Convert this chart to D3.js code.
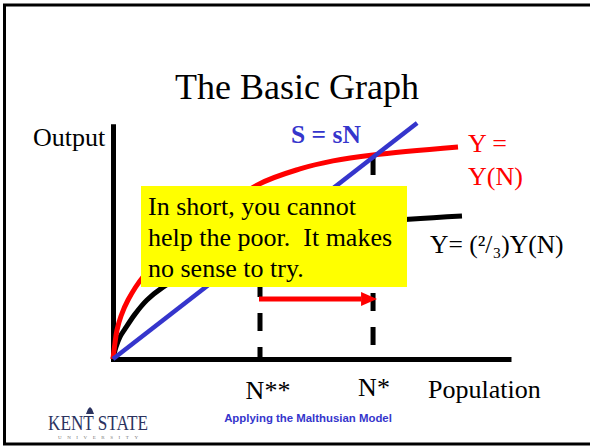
<!DOCTYPE html>
<html>
<head>
<meta charset="utf-8">
<script src="https://cdn.jsdelivr.net/npm/d3@7"></script>
<style>
  body { margin: 0; background: #fff; }
  svg { display: block; }
  .serif { font-family: "Liberation Serif", "Times New Roman", serif; }
</style>
</head>
<body>
<div id="chart"></div>
<script>
var width = 590,
    height = 446;

// population (N) and output (Y) in arbitrary units
var redN   = [0, 0.57, 1.14, 2.29, 4.29, 8.57, 16.29, 24.86, 41.14, 53.43, 62.86, 74.29, 98.57];
var redY   = [0, 6.8, 12.3, 18.3, 25.1, 34.9, 46.0, 56.8, 74.0, 80.9, 84.3, 86.8, 90.2];
var blackN = [0, 0.86, 2.0, 3.43, 6.29, 9.71, 14.29, 24.86, 41.14, 56.29, 74.29, 99.71];
var blackY = [0, 5.1, 9.4, 12.8, 19.1, 25.1, 30.6, 39.6, 49.4, 54.9, 58.3, 60.9];
var blueN  = [0, 86.9];
var blueY  = [0, 100.4];
var nStarStar = 42.0,   // where (2/3)Y(N) meets sN
    nStar = 74.3;       // where Y(N) meets sN
var boxLines = ["In short, you cannot", "help the poor.  It makes", "no sense to try."];

var x = d3.scaleLinear().domain([0, 113]).range([113, 508.5]);
var y = d3.scaleLinear().domain([0, 99]).range([359, 126.35]);

var svg = d3.select("#chart").append("svg")
    .attr("width", width)
    .attr("height", height);

// slide frame
svg.append("rect")
    .attr("x", 4.5).attr("y", 5)
    .attr("width", 620).attr("height", 439)
    .attr("fill", "none")
    .attr("stroke", "#000")
    .attr("stroke-width", 3);

svg.append("text")
    .attr("class", "serif")
    .attr("x", 297).attr("y", 99)
    .attr("text-anchor", "middle")
    .attr("font-size", 36)
    .text("The Basic Graph");

// axes (no ticks, just the lines)
svg.append("g")
    .attr("transform", "translate(0," + y(0) + ")")
    .call(d3.axisBottom(x).ticks(0).tickSizeOuter(0));
svg.append("g")
    .attr("transform", "translate(" + x(0) + ",0)")
    .call(d3.axisLeft(y).ticks(0).tickSizeOuter(0));
svg.selectAll(".domain")
    .attr("stroke", "#000")
    .attr("stroke-width", 5)
    .attr("stroke-linecap", "square");

var line = d3.line()
    .x(function(d) { return x(d[0]); })
    .y(function(d) { return y(d[1]); })
    .curve(d3.curveCatmullRom.alpha(0.5));

function pairs(a, b) { return a.map(function(v, i) { return [v, b[i]]; }); }

// dashed guides
[[nStarStar, 49.4], [nStar, 86.8]].forEach(function(p) {
  svg.append("line")
      .attr("x1", x(p[0])).attr("x2", x(p[0]))
      .attr("y1", y(p[1]) + 2).attr("y2", y(0) + 3)
      .attr("stroke", "#000")
      .attr("stroke-width", 5)
      .attr("stroke-dasharray", "18,16");
});

svg.append("path")
    .attr("d", line(pairs(blackN, blackY)))
    .attr("fill", "none")
    .attr("stroke", "#000")
    .attr("stroke-width", 5);

svg.append("path")
    .attr("d", line(pairs(redN, redY)))
    .attr("fill", "none")
    .attr("stroke", "#ff0000")
    .attr("stroke-width", 5);

svg.append("path")
    .attr("d", d3.line().x(function(d) { return x(d[0]); }).y(function(d) { return y(d[1]); })(pairs(blueN, blueY)))
    .attr("fill", "none")
    .attr("stroke", "#3535cc")
    .attr("stroke-width", 4.5);

// arrow from N** to N*
var ay = 299;
svg.append("line")
    .attr("x1", x(nStarStar) - 1).attr("x2", x(nStar) - 12)
    .attr("y1", ay).attr("y2", ay)
    .attr("stroke", "#ff0000")
    .attr("stroke-width", 5);
svg.append("path")
    .attr("d", "M" + (x(nStar) + 4) + "," + ay + "L" + (x(nStar) - 12) + "," + (ay - 7) + "L" + (x(nStar) - 12) + "," + (ay + 7) + "Z")
    .attr("fill", "#ff0000");

// yellow callout
svg.append("rect")
    .attr("x", 141).attr("y", 186)
    .attr("width", 266).attr("height", 101)
    .attr("fill", "#ffff00");
svg.append("g").selectAll("text")
    .data(boxLines)
    .enter().append("text")
    .attr("class", "serif")
    .attr("x", 148)
    .attr("y", function(d, i) { return 215 + i * 31; })
    .attr("font-size", 26)
    .attr("xml:space", "preserve")
    .style("white-space", "pre")
    .text(function(d) { return d; });

// labels
svg.append("text").attr("class", "serif")
    .attr("x", 33).attr("y", 146).attr("font-size", 26)
    .text("Output");
svg.append("text").attr("class", "serif")
    .attr("x", 291).attr("y", 143).attr("font-size", 25.5)
    .attr("font-weight", "bold").attr("fill", "#3535cc")
    .text("S = sN");
svg.append("text").attr("class", "serif")
    .attr("x", 468).attr("y", 152).attr("font-size", 26).attr("fill", "#ff0000")
    .text("Y =");
svg.append("text").attr("class", "serif")
    .attr("x", 468).attr("y", 185).attr("font-size", 26).attr("fill", "#ff0000")
    .text("Y(N)");
svg.append("text").attr("class", "serif")
    .attr("x", 430).attr("y", 253).attr("font-size", 25.5)
    .text("Y= (\u00B2/\u2083)Y(N)");

svg.append("text").attr("class", "serif")
    .attr("x", 268).attr("y", 399).attr("font-size", 26).attr("text-anchor", "middle")
    .text("N**");
svg.append("text").attr("class", "serif")
    .attr("x", 374).attr("y", 396).attr("font-size", 26).attr("text-anchor", "middle")
    .text("N*");
svg.append("text").attr("class", "serif")
    .attr("x", 428).attr("y", 398).attr("font-size", 26)
    .text("Population");

svg.append("text")
    .attr("x", 308).attr("y", 422)
    .attr("text-anchor", "middle")
    .attr("font-family", "Liberation Sans, Arial, sans-serif")
    .attr("font-size", 11.4).attr("font-weight", "bold")
    .attr("fill", "#3535cc")
    .text("Applying the Malthusian Model");

// Kent State wordmark
svg.append("path")
    .attr("d", "M86,414 L88,409 L90,407 L92,409 L94,414 Z")
    .attr("fill", "#2b3360");
svg.append("text").attr("class", "serif")
    .attr("x", 98).attr("y", 430).attr("text-anchor", "middle")
    .attr("font-size", 21).attr("fill", "#2b3360")
    .attr("textLength", 100).attr("lengthAdjust", "spacingAndGlyphs")
    .text("KENT STATE");
svg.append("text").attr("class", "serif")
    .attr("x", 98).attr("y", 439).attr("text-anchor", "middle")
    .attr("font-size", 5).attr("fill", "#777")
    .attr("textLength", 80).attr("lengthAdjust", "spacing")
    .text("UNIVERSITY");
</script>
</body>
</html>
